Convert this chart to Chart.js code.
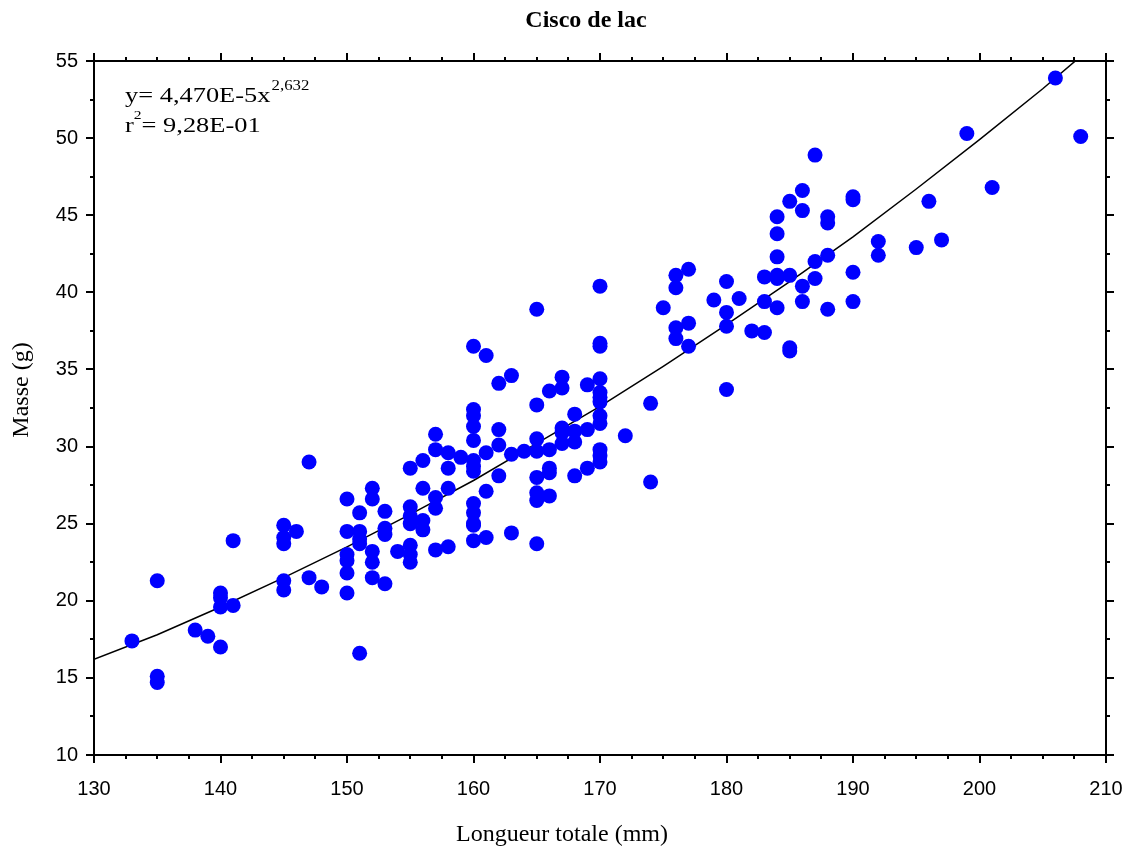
<!DOCTYPE html>
<html>
<head>
<meta charset="utf-8">
<title>Cisco de lac</title>
<script src="https://cdn.jsdelivr.net/npm/chart.js@4"></script>
<style>
  html, body { margin: 0; padding: 0; background: #fff; }
  #box { width: 1126px; height: 849px; }
</style>
</head>
<body>
<div id="box"><canvas id="Cisco_Chart"></canvas></div>
<script>
// Longueur totale (mm) et masse (g) de chaque poisson
const longueurs = [
  133, 135, 135, 135, 138, 139, 140, 140, 140, 140, 141, 141,
  145, 145, 145, 145, 145, 146, 147, 147, 148,
  150, 150, 150, 150, 150, 150, 151, 151, 151, 151, 151,
  152, 152, 152, 152, 152, 153, 153, 153, 153, 154,
  155, 155, 155, 155, 155, 155, 155, 156, 156, 156, 156,
  157, 157, 157, 157, 157, 158, 158, 158, 158, 159,
  160, 160, 160, 160, 160, 160, 160, 160, 160, 160, 160, 160, 160,
  161, 161, 161, 161, 162, 162, 162, 162, 163, 163, 163, 164,
  165, 165, 165, 165, 165, 165, 165, 165, 166, 166, 166, 166, 166,
  167, 167, 167, 167, 167, 168, 168, 168, 168, 169, 169, 169,
  170, 170, 170, 170, 170, 170, 170, 170, 170, 170, 170, 170,
  172, 174, 174, 175, 176, 176, 176, 176, 177, 177, 177, 179,
  180, 180, 180, 180, 181, 182, 183, 183, 183,
  184, 184, 184, 184, 184, 184, 185, 185, 185, 185,
  186, 186, 186, 186, 187, 187, 187, 188, 188, 188, 188,
  190, 190, 190, 190, 192, 192, 195, 196, 197, 199, 201, 206, 208
];
const masses = [
  17.4, 21.3, 15.1, 14.7, 18.1, 17.7, 20.5, 20.2, 19.6, 17.0, 23.9, 19.7,
  24.9, 24.1, 23.7, 21.3, 20.7, 24.5, 29.0, 21.5, 20.9,
  26.6, 24.5, 23.0, 22.6, 21.8, 20.5, 25.7, 24.5, 24.0, 23.7, 16.6,
  27.3, 26.6, 23.2, 22.5, 21.5, 25.8, 24.7, 24.3, 21.1, 23.2,
  28.6, 26.1, 25.5, 25.0, 23.6, 23.0, 22.5, 29.1, 27.3, 25.2, 24.6,
  30.8, 29.8, 26.7, 26.0, 23.3, 29.6, 28.6, 27.3, 23.5, 29.3,
  36.5, 32.4, 32.0, 31.3, 30.4, 29.1, 28.7, 28.4, 26.3, 25.7, 25.0, 24.9, 23.9,
  35.9, 29.6, 27.1, 24.1, 34.1, 31.1, 30.1, 28.1, 34.6, 29.5, 24.4, 29.7,
  38.9, 32.7, 30.5, 29.7, 28.0, 27.0, 26.5, 23.7, 33.6, 29.8, 28.6, 28.3, 26.8,
  34.5, 33.8, 31.2, 30.9, 30.2, 32.1, 31.0, 30.3, 28.1, 34.0, 31.1, 28.6,
  40.4, 36.7, 36.5, 34.4, 33.5, 33.2, 32.9, 32.0, 31.5, 29.8, 29.4, 29.0,
  30.7, 32.8, 27.7, 39.0, 41.1, 40.3, 37.7, 37.0, 41.5, 38.0, 36.5, 39.5,
  40.7, 38.7, 37.8, 33.7, 39.6, 37.5, 41.0, 39.4, 37.4,
  44.9, 43.8, 42.3, 41.1, 40.9, 39.0, 45.9, 41.1, 36.4, 36.2,
  46.6, 45.3, 40.4, 39.4, 48.9, 42.0, 40.9, 44.9, 44.5, 42.4, 38.9,
  46.2, 46.0, 41.3, 39.4, 43.3, 42.4, 42.9, 45.9, 43.4, 50.3, 46.8, 53.9, 50.1
];

// Courbe d'ajustement (y = 4,470E-5 x^2,632)
const ajustX = [130, 135, 140, 145, 150, 155, 160, 165, 170, 175, 180, 185, 190, 195, 200, 205, 208];
const ajustY = [16.2, 17.8, 19.6, 21.5, 23.5, 25.6, 27.8, 30.2, 32.6, 35.2, 37.9, 40.7, 43.6, 46.7, 49.9, 53.2, 55.3];

const titre = 'Cisco de lac';
const titreX = 'Longueur totale (mm)';
const titreY = 'Masse (g)';
const equation = ['y= 4,470E-5x', '2,632'];
const r2 = ['r', '2', '= 9,28E-01'];

const points = longueurs.map((x, i) => ({ x: x, y: masses[i] }));
const courbe = ajustX.map((x, i) => ({ x: x, y: ajustY[i] }));

// cadre, graduations, titres et equation
const cadrePlugin = {
  id: 'cadre',
  afterDraw(chart) {
    const c = chart.ctx;
    const a = chart.chartArea;
    const sx = chart.scales.x;
    const sy = chart.scales.y;
    c.save();
    c.strokeStyle = '#000';
    c.lineWidth = 2;
    c.strokeRect(a.left, a.top, a.right - a.left, a.bottom - a.top);

    c.beginPath();
    for (let v = 130; v <= 210; v += 2.5) {
      const px = Math.round(sx.getPixelForValue(v));
      const len = v % 10 === 0 ? 8 : 4;
      c.moveTo(px, a.bottom); c.lineTo(px, a.bottom + len);
      c.moveTo(px, a.top); c.lineTo(px, a.top - len);
    }
    for (let v = 10; v <= 55; v += 2.5) {
      const py = Math.round(sy.getPixelForValue(v));
      const len = v % 5 === 0 ? 8 : 4;
      c.moveTo(a.left, py); c.lineTo(a.left - len, py);
      c.moveTo(a.right, py); c.lineTo(a.right + len, py);
    }
    c.stroke();

    c.fillStyle = '#000';
    c.textAlign = 'center';
    c.textBaseline = 'alphabetic';
    c.font = 'bold 24px "Liberation Serif"';
    c.fillText(titre, 586, 27);

    c.font = '24px "Liberation Serif"';
    c.fillText(titreX, 562, 841);

    c.save();
    c.translate(28, 390);
    c.rotate(-Math.PI / 2);
    c.fillText(titreY, 0, 0);
    c.restore();

    // texte de l'equation, un peu etire en largeur comme l'original
    c.save();
    c.translate(125, 0);
    c.scale(1.2, 1);
    c.textAlign = 'left';
    c.font = '22px "Liberation Serif"';
    c.fillText(equation[0], 0, 102);
    let w = c.measureText(equation[0]).width;
    c.font = '14px "Liberation Serif"';
    c.fillText(equation[1], w + 1, 90);

    c.font = '22px "Liberation Serif"';
    c.fillText(r2[0], 0, 132);
    w = c.measureText(r2[0]).width;
    c.font = '13px "Liberation Serif"';
    c.fillText(r2[1], w, 119);
    const w2 = c.measureText(r2[1]).width;
    c.font = '22px "Liberation Serif"';
    c.fillText(r2[2], w + w2, 132);
    c.restore();
    c.restore();
  }
};

const ctx = document.getElementById('Cisco_Chart');

const Cisco_Chart = new Chart(ctx, {
  type: 'scatter',
  data: {
    datasets: [{
      label: 'Masse',
      data: points,
      backgroundColor: '#0000ff',
      borderWidth: 0,
      pointRadius: 7.5,
      pointHoverRadius: 7.5
    }, {
      label: 'Ajustement',
      data: courbe,
      showLine: true,
      borderColor: '#000',
      borderWidth: 1.5,
      pointRadius: 0,
      tension: 0
    }]
  },
  options: {
    responsive: true,
    maintainAspectRatio: false,
    animation: false,
    events: [],
    layout: { padding: { top: 61, right: 20, left: 0, bottom: 0 } },
    plugins: {
      legend: { display: false },
      tooltip: { enabled: false }
    },
    scales: {
      x: {
        type: 'linear',
        min: 130,
        max: 210,
        grid: { display: false, drawTicks: false },
        border: { display: false },
        ticks: {
          stepSize: 10,
          padding: 22,
          color: '#000',
          font: { family: '"Liberation Sans"', size: 20 }
        },
        afterFit(scale) {
          scale.height = 94;
          scale.paddingLeft = 0;
          scale.paddingRight = 0;
        }
      },
      y: {
        type: 'linear',
        min: 10,
        max: 55,
        grid: { display: false, drawTicks: false },
        border: { display: false },
        ticks: {
          stepSize: 5,
          padding: 16,
          color: '#000',
          font: { family: '"Liberation Sans"', size: 20 }
        },
        afterFit(scale) {
          scale.width = 94;
          scale.paddingTop = 0;
          scale.paddingBottom = 0;
        }
      }
    }
  },
  plugins: [cadrePlugin]
});
</script>
</body>
</html>
